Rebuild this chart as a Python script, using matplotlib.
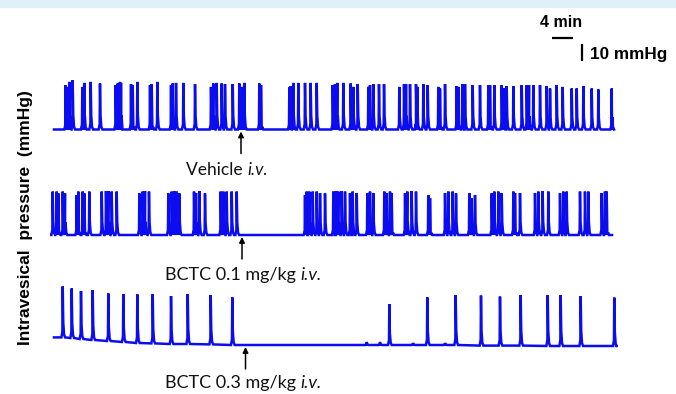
import numpy as np
import matplotlib
matplotlib.use('Agg')
import matplotlib.pyplot as plt

# spike times (min) and peak heights above baseline (mmHg)
veh_t = [2.04, 2.34, 2.72, 3.37, 5.20, 5.58, 6.80, 8.57, 11.56, 11.94, 12.38, 12.57,
         14.48, 14.80, 15.68, 18.10, 18.42, 19.49, 22.10, 22.42, 23.05, 24.44, 26.67,
         29.71, 30.15, 30.80, 31.75, 32.38, 33.85, 35.10, 35.56, 36.06, 38.91, 39.24,
         44.63, 44.90, 45.39, 46.34, 47.62, 48.70, 49.85, 52.90, 53.33, 53.77, 54.91,
         56.32, 56.82, 57.66, 59.68, 60.00, 60.63, 61.71, 62.67,
         65.58, 66.48, 66.86, 67.62, 68.76, 69.01, 70.15, 70.99, 73.01, 73.33, 74.29,
         76.51, 76.82, 77.58, 78.10, 79.56, 80.95, 82.53, 82.86, 83.68,
         85.09, 85.52, 86.04, 87.30, 88.90, 89.85, 90.29, 91.10, 92.38, 93.66, 94.29,
         95.56, 96.70, 98.42, 99.37, 100.63, 102.23, 103.49, 106.04]
veh_h = [22.2, 21.3, 23.8, 24.7, 21.3, 23.3, 23.8, 23.0, 22.2, 23.0, 23.8, 23.3,
         22.7, 22.2, 23.8, 22.2, 22.7, 23.8, 22.2, 23.0, 23.3, 23.3, 22.7,
         21.3, 23.0, 23.3, 23.0, 22.7, 22.7, 23.0, 21.3, 23.3, 23.0, 22.2,
         21.0, 21.7, 23.3, 23.3, 23.3, 23.3, 23.3, 22.2, 22.7, 23.3, 23.3,
         23.0, 21.3, 22.7, 21.3, 22.2, 22.7, 22.7, 22.7,
         21.3, 22.7, 22.7, 22.7, 22.7, 21.3, 22.7, 22.2, 21.3, 20.5, 22.7,
         21.7, 21.3, 22.7, 22.7, 22.2, 22.2, 22.2, 22.2, 22.2,
         22.2, 20.5, 21.7, 21.7, 22.2, 22.2, 22.2, 22.2, 22.2, 21.7, 20.5,
         22.2, 21.3, 20.5, 20.5, 21.7, 20.5, 20.0, 20.5]

low_t = [-0.44, 0.32, 0.63, 1.47, 1.90, 4.13, 4.44, 5.28, 5.58, 6.53,
         8.90, 9.71, 10.15, 10.80, 11.75, 16.06, 16.70, 17.14, 17.90,
         21.58, 22.23, 22.72, 23.18, 23.68, 26.48, 26.86, 27.49, 28.57,
         31.56, 32.06, 32.70, 33.66, 34.61,
         47.62, 47.94, 48.44, 49.09, 49.85, 50.48, 51.43, 53.01, 53.52, 53.96, 54.61, 55.24,
         56.19, 56.70, 57.47, 59.49, 60.00, 60.63, 62.72, 63.18, 63.81, 64.13,
         66.67, 67.10, 67.94, 68.76, 71.10, 71.43, 74.29, 74.91, 75.75, 76.38,
         78.91, 79.37, 80.00, 83.18, 83.68, 84.44, 85.09, 87.30, 87.62, 88.57,
         91.43, 92.06, 92.89, 93.96, 96.19, 96.82, 97.46, 100.00, 100.95, 101.59,
         104.13, 104.76, 105.08]
low_h = [21.7, 21.7, 20.8, 21.7, 20.8, 20.0, 21.7, 21.7, 20.8, 21.7,
         21.7, 22.0, 22.0, 21.7, 21.7, 20.8, 21.7, 22.0, 21.7,
         20.8, 21.7, 22.0, 21.7, 20.8, 21.7, 21.0, 22.0, 20.8,
         21.7, 21.7, 21.7, 21.7, 21.7,
         20.0, 21.7, 21.7, 21.7, 21.7, 21.0, 20.8, 21.7, 22.0, 21.7, 22.0, 21.7,
         21.0, 21.7, 21.0, 21.0, 21.7, 21.0, 21.7, 21.0, 21.7, 21.0,
         21.0, 21.7, 22.0, 21.7, 20.0, 18.5, 21.0, 21.7, 21.7, 20.8,
         21.0, 18.5, 20.0, 20.8, 21.7, 21.7, 21.0, 21.7, 21.0, 21.0,
         21.0, 21.7, 22.0, 21.7, 21.0, 21.7, 21.7, 21.7, 21.7, 21.7,
         21.0, 21.7, 21.7]

high_t = [1.47, 3.18, 4.95, 7.18, 10.15, 13.01, 15.68, 18.61, 22.10, 25.28, 29.66, 33.77,
          59.37, 61.90, 63.68, 68.19, 70.91, 74.29, 76.32, 81.14, 84.76, 88.70, 93.85,
          96.32, 100.13, 106.53]
high_h = [25.5, 24.8, 24.0, 25.0, 23.8, 24.0, 24.3, 24.6, 24.0, 25.0, 24.7, 23.8,
          1.5, 1.5, 20.5, 1.0, 23.8, 1.0, 25.0, 25.0, 24.5, 25.3, 25.5,
          25.5, 25.0, 24.2]
# local baseline drift of the 0.3 mg/kg trace (mmHg)
high_b = [3.8, 3.5, 3.0, 2.5, 2.0, 1.5, 1.0, 0.8, 0.5, 0.5, 0.3, 0.0,
          0.0, 0.0, 0.0, 0.0, 0.0, 0.0, 0.0, -0.3, -0.3, -0.3, -0.5,
          -0.5, -0.5, -0.5]

labels = ["Vehicle ", "BCTC 0.1 mg/kg ", "BCTC 0.3 mg/kg "]

PX_MIN = 5.25   # px per minute
PX_MMHG = 2.0   # px per mmHg
W, H = 676, 394


def trace_xy(times, heights, bases, t0, t1):
    pts = [(t0, bases[0]), (t1, bases[-1])]
    for t, h, b in zip(times, heights, bases):
        pts += [(t - 0.25, b), (t - 0.06, b + 0.12 * h), (t, b + h),
                (t + 0.1, b + 0.3 * h), (t + 0.25, b + 0.06 * h), (t + 0.45, b)]
    pts.sort()
    return np.array(pts).T


fig = plt.figure(figsize=(W / 100, H / 100), dpi=100)
ax = fig.add_axes([0, 0, 1, 1])
ax.set_xlim(-55 / PX_MIN, (W - 55) / PX_MIN)
ax.set_ylim(0, H / PX_MMHG)
ax.axis('off')

# light band along the top edge
fig.patches.append(plt.Rectangle((0, 1 - 7 / H), 1, 7 / H, transform=fig.transFigure,
                                 color='#e1f0f8', zorder=0))

blue = '#0c0cf0'
traces = [
    (veh_t, veh_h, [0.0] * len(veh_t), -0.2, 106.1, 132.25),
    (low_t, low_h, [0.0] * len(low_t), -0.7, 106.1, 79.5),
    (high_t, high_h, high_b, -0.2, 106.9, 24.5),
]
for t, h, b, t0, t1, off in traces:
    x, y = trace_xy(t, h, b, t0, t1)
    ax.plot(x, y + off, color=blue, lw=1.8, solid_joinstyle='miter')

# injection arrows and labels
arrow_x = [35.43, 35.62, 36.29]
label_left = [24.95, 20.95, 20.95]
label_y = [112, 59.5, 5.3]
label_size = [12.5, 13, 13]
for i, (_, _, _, _, _, off) in enumerate(traces):
    ax.annotate('', xy=(arrow_x[i], off - 1), xytext=(arrow_x[i], off - 12),
                arrowprops=dict(arrowstyle='-|>', color='k', lw=1.1,
                                mutation_scale=8, shrinkA=0, shrinkB=0))
    t1 = ax.text(label_left[i], label_y[i], labels[i], ha='left', va='center',
                 fontsize=label_size[i], family='Lato', color='#111111')
    ax.annotate('i.v.', xy=(1, 0), xycoords=t1, ha='left', va='bottom',
                fontsize=label_size[i], family='Lato', style='italic', color='#111111')

# scale bars
ax.plot([94.67, 98.67], [178, 178], color='k', lw=1.6, solid_capstyle='butt')
ax.plot([100.3, 100.3], [166.5, 175], color='k', lw=1.6, solid_capstyle='butt')
ax.text(96.4, 186, '4 min', ha='center', va='center', fontsize=11.5,
        family='Liberation Sans', weight='bold')
ax.text(101.9, 170, '10 mmHg', ha='left', va='center', fontsize=12.3,
        family='Liberation Sans', weight='bold')

ax.text(-5.7, 88, 'Intravesical  pressure  (mmHg)', rotation=90, ha='center',
        va='center', fontsize=12.5, family='Liberation Sans', weight='bold')

fig.savefig('out.png', dpi=100)
